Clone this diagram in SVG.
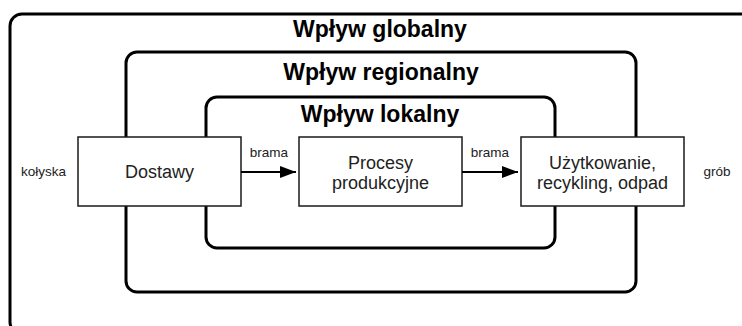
<svg xmlns="http://www.w3.org/2000/svg" width="742" height="326" viewBox="0 0 742 326">
<style>
.zone{fill:none;stroke:#000;stroke-width:3}
.box{fill:#fff;stroke:#1a1a1a;stroke-width:1.5}
.title{font-family:"Liberation Sans",Arial,sans-serif;font-weight:bold;font-size:23px;fill:#000;text-anchor:middle}
.lbl{font-family:"Liberation Sans",Arial,sans-serif;font-size:18px;fill:#222;text-anchor:middle}
.small{font-family:"Liberation Sans",Arial,sans-serif;font-size:13.5px;fill:#222;text-anchor:middle}
.conn{fill:none;stroke:#000;stroke-width:1.8}
</style>
<defs>
<marker id="arr" markerWidth="16" markerHeight="12" refX="16" refY="6" orient="auto" markerUnits="userSpaceOnUse" viewBox="0 0 16 12">
<path d="M0,0 L16,6 L0,12 z" fill="#000"/>
</marker>
</defs>
<rect width="742" height="326" fill="#fff"/>
<g id="global">
<rect class="zone" x="10" y="14" width="750" height="320" rx="12"/>
<text class="title" x="380" y="37">Wpływ globalny</text>
</g>
<g id="regional">
<rect class="zone" x="126" y="52" width="510" height="240" rx="11"/>
<text class="title" x="381" y="80">Wpływ regionalny</text>
</g>
<g id="local">
<rect class="zone" x="206" y="97" width="349" height="151" rx="11"/>
<text class="title" x="380" y="122">Wpływ lokalny</text>
</g>
<g id="dostawy">
<rect class="box" x="78" y="137" width="163" height="69"/>
<text class="lbl" x="159.5" y="178">Dostawy</text>
</g>
<g id="procesy">
<rect class="box" x="299" y="137" width="163" height="69"/>
<text class="lbl" x="380.5" y="168.5">Procesy</text>
<text class="lbl" x="380.5" y="189">produkcyjne</text>
</g>
<g id="uzytkowanie">
<rect class="box" x="521" y="137" width="163" height="69"/>
<text class="lbl" x="602.5" y="168.5">Użytkowanie,</text>
<text class="lbl" x="602.5" y="189">recykling, odpad</text>
</g>
<g id="kolyska">
<text class="small" x="43.5" y="176">kołyska</text>
</g>
<g id="grob">
<text class="small" x="717" y="176">grób</text>
</g>
<g id="connectors">
<line class="conn" x1="241" y1="172" x2="296" y2="172" marker-end="url(#arr)"/>
<text class="small" x="269" y="157">brama</text>
<line class="conn" x1="462" y1="172" x2="518" y2="172" marker-end="url(#arr)"/>
<text class="small" x="490" y="157">brama</text>
</g>
</svg>
